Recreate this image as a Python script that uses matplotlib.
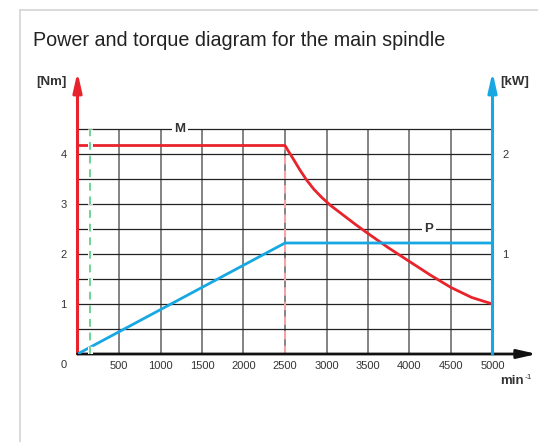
import numpy as np
import matplotlib
matplotlib.use("Agg")
import matplotlib.pyplot as plt
import matplotlib.patheffects as pe
from matplotlib.lines import Line2D

plt.rcParams['font.family'] = ['Liberation Sans', 'DejaVu Sans']

## data
torque_rpm = [0, 2500, 2540, 2600, 2680, 2760, 2850, 2950, 3050, 3200, 3350, 3500,
              3750, 4000, 4250, 4500, 4750, 5000]
torque_nm = [4.17, 4.17, 4.06, 3.90, 3.68, 3.48, 3.29, 3.12, 2.97, 2.78, 2.59, 2.41,
             2.12, 1.85, 1.58, 1.33, 1.13, 1.0]
power_rpm = [0, 2500, 5000]
power_kw = [0.0, 1.11, 1.11]
x_ticks = [500, 1000, 1500, 2000, 2500, 3000, 3500, 4000, 4500, 5000]
nm_ticks = [1, 2, 3, 4]
kw_ticks = [1, 2]
base_rpm = 2500
min_rpm = 150

RED = '#e8232b'
BLUE = '#17a8e3'
GREEN = '#6fd494'
PINK = '#f5a3a6'
TXT = '#333333'

W, H = 538, 442
fig = plt.figure(figsize=(W / 100, H / 100), dpi=100)

# card border
fig.add_artist(Line2D([20 / W, 20 / W], [0, 1 - 10 / H], color='#d8d8d8', lw=1.3))
fig.add_artist(Line2D([20 / W, 1], [1 - 10 / H, 1 - 10 / H], color='#d8d8d8', lw=1.3))
fig.text(33 / W, 1 - 40 / H, 'Power and torque diagram for the main spindle',
         fontsize=14.2, color='#222222', va='center', ha='left')

x0, x1, y0, y1 = 77.5, 537, 354, 72
ax = fig.add_axes([x0 / W, 1 - y0 / H, (x1 - x0) / W, (y0 - y1) / H])
xmax = (x1 - x0) / 415 * 5000
ymax = (y0 - y1) / 50
ax.set_xlim(0, xmax)
ax.set_ylim(0, ymax)
for s in ax.spines.values():
    s.set_visible(False)

# grid
ax.vlines(np.arange(500, 5000, 500), 0, 4.5, color='#7a7a7a', lw=1.3, zorder=1)
ax.hlines(np.arange(0.5, 4.6, 0.5), 0, 5000, color='#222222', lw=0.9, zorder=1)

# curves
ax.vlines(base_rpm, 0, torque_nm[1], color=PINK, lw=1.5, ls=(0, (4, 3)), zorder=2)
ax.plot(torque_rpm, torque_nm, color=RED, lw=2, zorder=3, solid_capstyle='butt')

ax2 = ax.twinx()
ax2.set_ylim(0, ymax / 2)
for s in ax2.spines.values():
    s.set_visible(False)
ax2.plot(power_rpm, power_kw, color=BLUE, lw=2, zorder=3, solid_capstyle='butt')

ax2.vlines(min_rpm, 0, 4.5 / 2, color=GREEN, lw=1.4, ls=(0, (4, 3)), zorder=4,
           path_effects=[pe.withStroke(linewidth=3.6, foreground='white')])

# axes with arrows
arrow = '-|>,head_length=1.15,head_width=0.26'
ax.annotate('', xy=(0, ymax), xytext=(0, 0),
            arrowprops=dict(arrowstyle=arrow, color=RED, lw=2.2, mutation_scale=10, shrinkA=0, shrinkB=0))
ax.annotate('', xy=(5000, ymax), xytext=(5000, 0),
            arrowprops=dict(arrowstyle=arrow, color=BLUE, lw=2.2, mutation_scale=10, shrinkA=0, shrinkB=0), zorder=5)
ax.annotate('', xy=(xmax, 0), xytext=(0, 0),
            arrowprops=dict(arrowstyle=arrow, color='#111111', lw=2.0, mutation_scale=10, shrinkA=0, shrinkB=0))

# ticks
ax.set_xticks(x_ticks)
ax.set_xticklabels([str(v) for v in x_ticks])
ax.set_yticks(nm_ticks)
ax.tick_params(axis='both', length=0, labelsize=8, colors=TXT)
ax.tick_params(axis='x', pad=5)
ax.tick_params(axis='y', pad=8)
ax2.spines['right'].set_position(('data', 5000))
ax2.set_yticks(kw_ticks)
ax2.tick_params(axis='y', length=0, labelsize=8, colors=TXT, pad=7)
ax.text(-130, -0.22, '0', fontsize=8, color=TXT, ha='right', va='center')

# curve labels
box = dict(facecolor='white', edgecolor='none', pad=2)
ax.text(1235, 4.5, 'M', fontsize=9.5, fontweight='bold', color=TXT,
        ha='center', va='center', bbox=box, zorder=6)
ax.text(4235, 2.5, 'P', fontsize=9.5, fontweight='bold', color=TXT,
        ha='center', va='center', bbox=box, zorder=6)

# units
ax.text(-130, 5.44, '[Nm]', fontsize=9.5, fontweight='bold', color=TXT, ha='right', va='center')
ax.text(5090, 5.44, '[kW]', fontsize=9.5, fontweight='bold', color=TXT, ha='left', va='center')
ax.text(5380, -0.53, 'min', fontsize=9.5, fontweight='bold', color=TXT, ha='right', va='center')
ax.text(5390, -0.47, '-1', fontsize=6, color=TXT, ha='left', va='center')

fig.savefig('out.png', dpi=100)
